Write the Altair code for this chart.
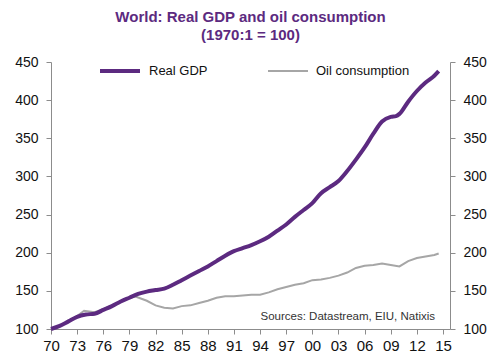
import altair as alt
import pandas as pd

# Real GDP (1970:1 = 100)
gdp_years = [1970, 1971, 1972, 1973, 1974, 1975, 1976, 1977, 1978, 1979, 1980, 1981, 1982, 1983,
             1984, 1985, 1986, 1987, 1988, 1989, 1990, 1991, 1992, 1993, 1994, 1995, 1996, 1997,
             1998, 1999, 2000, 2001, 2002, 2003, 2004, 2005, 2006, 2007, 2008, 2009, 2009.6,
             2010, 2011, 2012, 2013, 2014, 2014.5]
gdp_vals = [100, 104, 110, 116, 119, 120, 125, 130, 136, 141, 146, 149, 151, 153,
            158, 164, 170, 176, 182, 189, 196, 202, 206, 210, 215, 221, 229, 237,
            247, 256, 265, 278, 286, 294, 307, 322, 338, 356, 372, 378, 379,
            382, 398, 412, 423, 432, 438]

# Oil consumption (1970:1 = 100)
oil_years = [1970, 1971, 1972, 1973, 1973.8, 1975, 1976, 1977, 1978, 1979, 1979.7, 1981, 1982,
             1983, 1984, 1985, 1986, 1987, 1988, 1989, 1990, 1991, 1992, 1993, 1994, 1995, 1996,
             1997, 1998, 1999, 2000, 2001, 2002, 2003, 2004, 2005, 2006, 2007, 2008, 2009,
             2010, 2011, 2012, 2013, 2014, 2014.5]
oil_vals = [100, 104, 110, 117, 124, 122, 126, 131, 136, 141, 142.5, 137, 131,
            128, 127, 130, 131, 134, 137, 141, 143, 143, 144, 145, 145, 148, 152,
            155, 158, 160, 164, 165, 167, 170, 174, 180, 183, 184, 186, 184,
            182, 189, 193, 195, 197, 199]

x_ticks = list(range(1970, 2016, 3))
y_ticks = [100, 150, 200, 250, 300, 350, 400, 450]
series_names = ["Real GDP", "Oil consumption"]
series_colors = ["#5C2A80", "#A6A6A6"]
series_widths = [4, 2]
source_text = "Sources: Datastream, EIU, Natixis"
title_lines = ["World: Real GDP and oil consumption", "(1970:1 = 100)"]

gdp_df = pd.DataFrame({"year": gdp_years, "value": gdp_vals, "series": "Real GDP"})
oil_df = pd.DataFrame({"year": oil_years, "value": oil_vals, "series": "Oil consumption"})

axis_col = "#8C8C8C"
x_enc = alt.X("year:Q",
              scale=alt.Scale(domain=[1970, 2015.8], nice=False, zero=False),
              axis=alt.Axis(values=x_ticks, labelExpr="slice(toString(datum.value), 2)",
                            title=None, grid=False, tickSize=5, labelFontSize=15,
                            labelPadding=4, domainColor=axis_col, tickColor=axis_col,
                            labelColor="#111111", labelFlush=False))
y_scale = alt.Scale(domain=[100, 450], nice=False, zero=False)

def y_axis(orient):
    return alt.Axis(values=y_ticks, orient=orient, title=None, grid=False, tickSize=5,
                    labelFontSize=14, labelPadding=8, domainColor=axis_col,
                    tickColor=axis_col, labelColor="#111111")

def legend():
    return alt.Legend(title=None, orient="none", direction="horizontal",
                      legendX=47, legendY=-13, symbolType="stroke",
                      symbolSize=1600, labelFontSize=13, labelOffset=7,
                      columnPadding=56, padding=0, labelColor="#111111")

color_enc = alt.Color("series:N",
                      scale=alt.Scale(domain=series_names, range=series_colors),
                      legend=legend())
sw_enc = alt.StrokeWidth("series:N",
                         scale=alt.Scale(domain=series_names, range=series_widths),
                         legend=legend())

gdp_line = alt.Chart(gdp_df).mark_line(interpolate="monotone").encode(
    x=x_enc,
    y=alt.Y("value:Q", scale=y_scale, axis=y_axis("left")),
    color=color_enc, strokeWidth=sw_enc)

oil_line = alt.Chart(oil_df).mark_line().encode(
    x=x_enc,
    y=alt.Y("value:Q", scale=y_scale, axis=y_axis("right")),
    color=color_enc, strokeWidth=sw_enc)

src = alt.Chart(pd.DataFrame({"t": [source_text]})).mark_text(
    align="right", baseline="alphabetic", fontSize=11.5, color="#333333"
).encode(text="t:N", x=alt.value(384), y=alt.value(258))

chart = alt.layer(oil_line, gdp_line, src).resolve_axis(y="independent").properties(
    width=399, height=267,
    autosize=alt.AutoSizeParams(type="none"),
    padding={"left": 43, "top": 54, "right": 42, "bottom": 27},
    title=alt.TitleParams(text=title_lines, fontSize=15, fontWeight="bold",
                          color="#5C2A80", anchor="middle", offset=6, lineHeight=18,
                          frame="group"),
).configure(font="Liberation Sans").configure_view(stroke=None)

chart.save("out.html", embed_options={"renderer": "svg", "actions": False})
